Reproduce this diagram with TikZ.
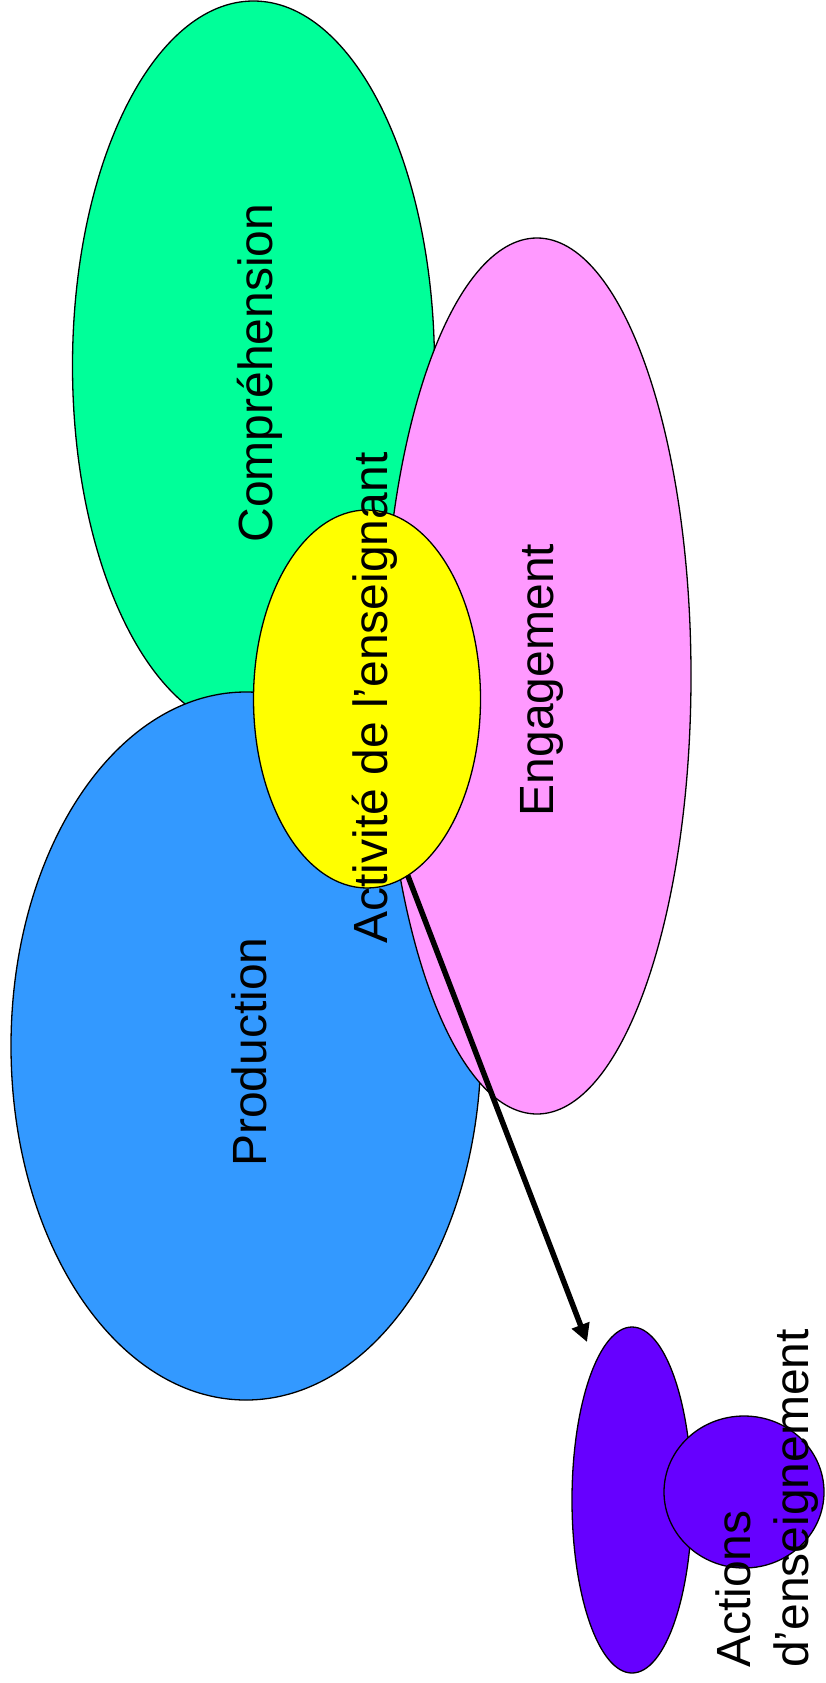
\documentclass[tikz,border=0pt]{standalone}
\usepackage{fontspec}
\setmainfont{Liberation Sans}
\usetikzlibrary{shapes.geometric,arrows.meta}
\definecolor{cgreen}{HTML}{00FF99}
\definecolor{cblue}{HTML}{3399FF}
\definecolor{cpink}{HTML}{FF99FF}
\definecolor{cyellow}{HTML}{FFFF00}
\definecolor{cpurple}{HTML}{6600FF}
\begin{document}
\begin{tikzpicture}[x=1pt,y=-1pt,
  blob/.style={ellipse,draw=black,line width=1.3pt,inner sep=0pt,outer sep=0pt},
  lbl/.style={rotate=90,anchor=base,inner sep=0pt,font=\fontsize{48}{58}\selectfont},
  arrowline/.style={draw=black,line width=5.5pt,-{Triangle[length=18pt,width=18pt]}}]
\useasboundingbox (0,0) rectangle (826,1683);
\node[blob,fill=cgreen,minimum width=362pt,minimum height=730pt] (comp) at (253.5,366) {};
\node[blob,fill=cblue,minimum width=470pt,minimum height=708pt] (prod) at (246,1046) {};
\node[blob,fill=cpink,minimum width=308pt,minimum height=876pt] (eng) at (537,676) {};
\node[blob,fill=cyellow,minimum width=227pt,minimum height=378pt] (act) at (367,699) {};
\node[blob,fill=cpurple,minimum width=120pt,minimum height=346pt] (ens1) at (632,1500) {};
\node[blob,fill=cpurple,minimum width=160pt,minimum height=152pt] (ens2) at (744,1492) {};
\coordinate (tip) at (587,1342);
\draw[arrowline] (act.-77.7) -- (tip);
\node[lbl] (tcomp) at (272,373) {Compréhension};
\node[lbl] (teng) at (553,680) {Engagement};
\node[lbl] (tact) at (387,698) {Activité de l’enseignant};
\node[lbl] (tprod) at (266,1052) {Production};
\node[lbl,anchor=north west,align=left] (tens) at (715.6,1668) {Actions\\d’enseignement};
\end{tikzpicture}
\end{document}
